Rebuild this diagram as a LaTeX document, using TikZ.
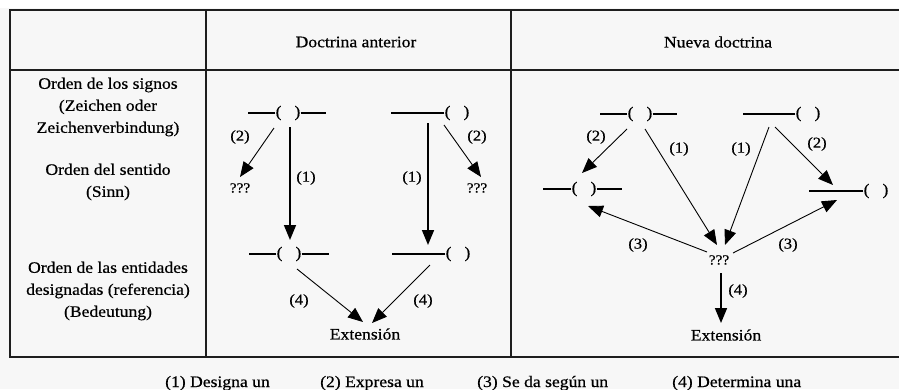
\documentclass[tikz,border=0pt]{standalone}
\usepackage{fontspec}
\setmainfont[FakeStretch=1.1,FakeBold=0.6]{Liberation Serif}
\usetikzlibrary{arrows.meta}
\definecolor{bg}{RGB}{247,247,247}
\definecolor{rulec}{RGB}{30,30,30}
\begin{document}
\begin{tikzpicture}[x=1pt,y=-1pt,
  txt/.style={font=\fontsize{16}{22}\selectfont, inner sep=0pt},
  lbl/.style={font=\fontsize{15}{18}\selectfont, inner sep=0pt},
  qq/.style={font=\fontsize{14}{16}\selectfont, inner sep=0pt},
  sign/.style={font=\fontsize{16}{20}\selectfont, inner sep=0pt},
  sline/.style={line width=1.2pt},
  arr/.style={-{Triangle[length=15pt,width=12pt]}, line width=0.9pt},
  varr/.style={arr, line width=1.6pt},
  frame/.style={line width=1.6pt, draw=rulec}]
\useasboundingbox (0,0) rectangle (899,389);
\clip (0,0) rectangle (899,389);
\fill[white] (0,0) rectangle (899,389);
\fill[bg] (0,8) rectangle (899,389);
% table
\draw[frame] (10,10) rectangle (940,357);
\draw[frame] (10,70) -- (940,70);
\draw[frame] (206,10) -- (206,357);
\draw[frame] (511,10) -- (511,357);
% headers
\node[txt] (h1) at (356,42) {Doctrina anterior};
\node[txt] (h2) at (718,42) {Nueva doctrina};
% left column
\node[txt, align=center] (r1) at (108,107) {Orden de los signos\\(Zeichen oder\\Zeichenverbindung)};
\node[txt, align=center] (r2) at (108,182) {Orden del sentido\\(Sinn)};
\node[txt, align=center] (r3) at (108,291) {Orden de las entidades\\designadas (referencia)\\(Bedeutung)};
% ---------- old doctrine
\node[sign] (sA) at (288,113) {(\hspace{13pt})};
\node[sign] (sB) at (457,113) {(\hspace{13pt})};
\node[sign] (sC) at (289,254) {(\hspace{13pt})};
\node[sign] (sD) at (458,254) {(\hspace{13pt})};
\draw[sline] (sA.west) -- ++(-27,0) (sA.east) -- ++(25,0);
\draw[sline] (sB.west) -- ++(-53,0);
\draw[sline] (sC.west) -- ++(-27,0) (sC.east) -- ++(27,0);
\draw[sline] (sD.west) -- ++(-53,0);
\node[qq] (qA) at (240,188) {???};
\node[qq] (qB) at (477,188) {???};
\node[txt] (exA) at (365,334) {Extensión};
\draw[arr] ([shift={(-14,15)}]sA.center) -- ([shift={(0,-11)}]qA.center);
\draw[varr] ([shift={(2,14)}]sA.center) -- ([shift={(1,-14)}]sC.center);
\draw[varr] ([shift={(-29,10)}]sB.center) -- ([shift={(-30,-9)}]sD.center);
\draw[arr] ([shift={(-13,12)}]sB.center) -- ([shift={(4,-11)}]qB.center);
\draw[arr] ([shift={(8,15)}]sC.center) -- ([shift={(-2,-12)}]exA.center);
\draw[arr] ([shift={(-28,11)}]sD.center) -- ([shift={(7,-11)}]exA.center);
\node[lbl] (o2a) at (240,137) {(2)};
\node[lbl] (o1a) at (306,178) {(1)};
\node[lbl] (o1b) at (412,178) {(1)};
\node[lbl] (o2b) at (477,137) {(2)};
\node[lbl] (o4a) at (299,301) {(4)};
\node[lbl] (o4b) at (423,301) {(4)};
% ---------- new doctrine
\node[sign] (N1) at (640,114) {(\hspace{13pt})};
\node[sign] (N2) at (808,114) {(\hspace{13pt})};
\node[sign] (N3) at (584,189) {(\hspace{13pt})};
\node[sign] (N4) at (876,191) {(\hspace{13pt})};
\draw[sline] (N1.west) -- ++(-27,0) (N1.east) -- ++(24,0);
\draw[sline] (N2.west) -- ++(-52,0);
\draw[sline] (N3.west) -- ++(-28,0) (N3.east) -- ++(25,0);
\draw[sline] (N4.west) -- ++(-54,0);
\node[qq] (qN) at (719,260) {???};
\node[txt] (exN) at (726,335) {Extensión};
\draw[arr] ([shift={(-13,15)}]N1.center) -- ([shift={(-2,-16)}]N3.center);
\draw[arr] ([shift={(5,15)}]N1.center) -- ([shift={(-2,-15)}]qN.center);
\draw[arr] ([shift={(-39,13)}]N2.center) -- ([shift={(6,-15)}]qN.center);
\draw[arr] ([shift={(-33,13)}]N2.center) -- ([shift={(-43,-6)}]N4.center);
\draw[arr] ([shift={(-12,-8)}]qN.center) -- ([shift={(4,17)}]N3.center);
\draw[arr] ([shift={(14,-7)}]qN.center) -- ([shift={(-39,9)}]N4.center);
\draw[varr] ([shift={(2,13)}]qN.center) -- ([shift={(-5,-12)}]exN.center);
\node[lbl] (n2a) at (596,137) {(2)};
\node[lbl] (n1a) at (679,149) {(1)};
\node[lbl] (n1b) at (741,149) {(1)};
\node[lbl] (n2b) at (817,144) {(2)};
\node[lbl] (n3a) at (638,245) {(3)};
\node[lbl] (n3b) at (788,245) {(3)};
\node[lbl] (n4) at (738,291) {(4)};
% legend
\node[txt, anchor=base west] (L1) at (165,387) {(1) Designa un};
\node[txt, anchor=base west] (L2) at (320,387) {(2) Expresa un};
\node[txt, anchor=base west] (L3) at (477,387) {(3) Se da según un};
\node[txt, anchor=base west] (L4) at (672,387) {(4) Determina una};
\end{tikzpicture}
\end{document}
